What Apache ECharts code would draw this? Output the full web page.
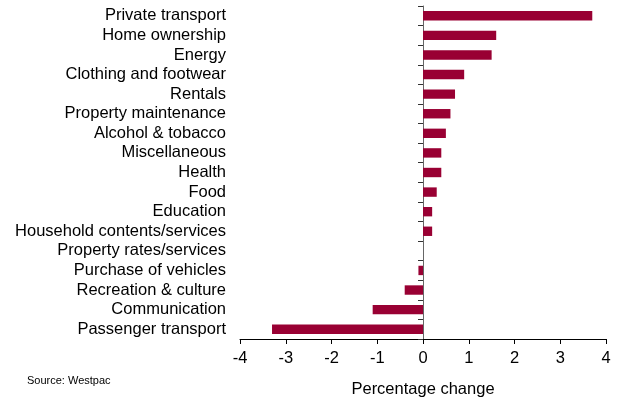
<!DOCTYPE html>
<html><head><meta charset="utf-8">
<script src="https://cdn.jsdelivr.net/npm/echarts@6/dist/echarts.min.js"></script>
<style>html,body{margin:0;padding:0;background:#fff}#c{width:618px;height:401px}</style>
</head><body><div id="c"></div>
<script>
var categories = ["Private transport","Home ownership","Energy","Clothing and footwear","Rentals","Property maintenance","Alcohol & tobacco","Miscellaneous","Health","Food","Education","Household contents/services","Property rates/services","Purchase of vehicles","Recreation & culture","Communication","Passenger transport"];
var values = [3.7,1.6,1.5,0.9,0.7,0.6,0.5,0.4,0.4,0.3,0.2,0.2,0,-0.1,-0.4,-1.1,-3.3];
var xTicks = [-4,-3,-2,-1,0,1,2,3,4];

var chart = echarts.init(document.getElementById('c'), null, {renderer:'canvas'});
chart.setOption({
  animation:false,
  textStyle:{fontFamily:'Liberation Sans, Arial, sans-serif'},
  grid:{left:240,right:12,top:6,bottom:62,containLabel:false,outerBoundsMode:'none'},
  graphic:[{type:'text',left:27,top:375,style:{text:'Source: Westpac',fontSize:11,fill:'#000',fontFamily:'Liberation Sans, Arial, sans-serif'}}],
  xAxis:{type:'value',min:xTicks[0],max:xTicks[xTicks.length-1],interval:1,
    name:'Percentage change',nameLocation:'middle',nameGap:42,
    nameTextStyle:{fontSize:16.5,color:'#000'},
    axisLine:{show:true,onZero:false,lineStyle:{color:'#000',width:1}},
    axisTick:{show:true,length:5,lineStyle:{color:'#000'}},
    axisLabel:{fontSize:16.5,color:'#000',margin:11},
    splitLine:{show:false}},
  yAxis:{type:'category',data:categories,inverse:true,
    axisLine:{show:true,onZero:true,lineStyle:{color:'#666',width:1}},
    axisTick:{show:true,length:5,interval:0,lineStyle:{color:'#333'}},
    axisLabel:{fontSize:16.5,color:'#000',margin:14,align:'right',interval:0,hideOverlap:false}},
  series:[{type:'bar',data:values,barWidth:'48%',itemStyle:{color:'#990033'}}]
});
</script></body></html>
